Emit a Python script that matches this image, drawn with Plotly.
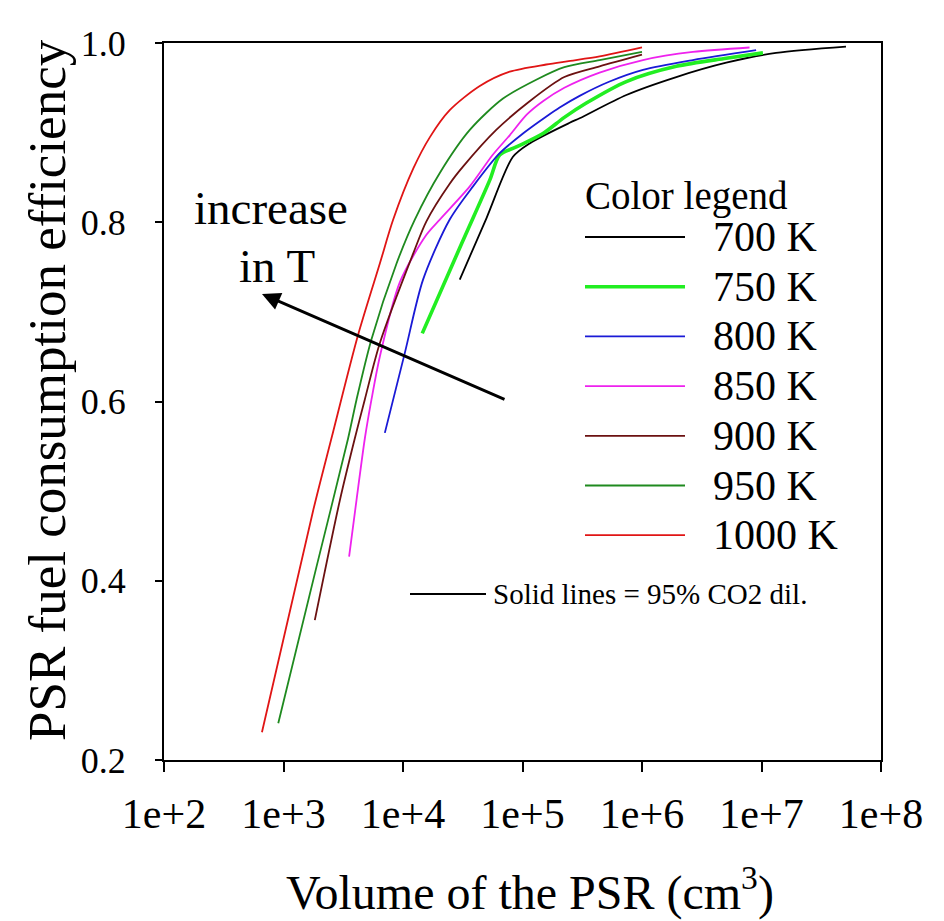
import plotly.graph_objects as go

# ---------------- data ----------------
temps = ["700 K", "750 K", "800 K", "850 K", "900 K", "950 K", "1000 K"]
colors = ["#000000", "#22ee22", "#1a1ad6", "#ee22ee", "#6b1111", "#1f8a1f", "#e01515"]
widths = [1.8, 3.6, 1.8, 1.8, 1.8, 1.8, 1.8]

vol_700 = [29850, 50100, 83200, 114800, 248300, 300600, 739600, 1936000, 5070000, 13240000, 50930000]
eff_700 = [0.736, 0.805, 0.873, 0.888, 0.911, 0.916, 0.942, 0.962, 0.978, 0.989, 0.996]

vol_750 = [14490, 30900, 53210, 64420, 88720, 148300, 223900, 342000, 739600, 1936000, 5070000, 10280000]
eff_750 = [0.676, 0.776, 0.847, 0.875, 0.884, 0.899, 0.917, 0.933, 0.957, 0.974, 0.983, 0.989]

vol_800 = [7047, 10350, 14720, 24600, 38550, 64420, 100900, 158500, 204600, 300600, 535800, 1018600, 2667000, 9016000]
eff_800 = [0.565, 0.654, 0.736, 0.803, 0.840, 0.877, 0.899, 0.918, 0.928, 0.941, 0.957, 0.970, 0.981, 0.992]

vol_850 = [3540, 4083, 4797, 5445, 6397, 9397, 15700, 20320, 36220, 56200, 78160, 108400, 148300, 223900, 441600, 1018600, 2667000, 7943000]
eff_850 = [0.427, 0.490, 0.559, 0.602, 0.650, 0.733, 0.786, 0.803, 0.840, 0.875, 0.897, 0.920, 0.935, 0.950, 0.967, 0.981, 0.990, 0.995]

vol_900 = [1828, 2965, 3954, 4786, 6397, 12160, 15700, 24600, 31770, 60260, 114800, 223900, 441600, 1000000]
eff_900 = [0.356, 0.490, 0.559, 0.602, 0.665, 0.765, 0.801, 0.843, 0.862, 0.903, 0.935, 0.962, 0.974, 0.987]

vol_950 = [904, 1892, 3475, 4083, 5433, 8830, 12560, 20320, 36220, 68710, 130300, 223900, 441600, 1000000]
eff_950 = [0.241, 0.416, 0.559, 0.602, 0.669, 0.754, 0.803, 0.855, 0.903, 0.938, 0.959, 0.973, 0.981, 0.990]

vol_1000 = [660, 1775, 2520, 4200, 6400, 8280, 12200, 16800, 24600, 43900, 78200, 158000, 251000, 442000, 1000000]
eff_1000 = [0.231, 0.479, 0.559, 0.674, 0.754, 0.803, 0.860, 0.895, 0.925, 0.952, 0.968, 0.976, 0.980, 0.985, 0.995]

volumes = [vol_700, vol_750, vol_800, vol_850, vol_900, vol_950, vol_1000]
effs = [eff_700, eff_750, eff_800, eff_850, eff_900, eff_950, eff_1000]

x_tickvals = [1e2, 1e3, 1e4, 1e5, 1e6, 1e7, 1e8]
x_ticktext = ["1e+2", "1e+3", "1e+4", "1e+5", "1e+6", "1e+7", "1e+8"]
y_tickvals = [0.2, 0.4, 0.6, 0.8, 1.0]

# ---------------- layout geometry ----------------
W, H = 944, 921
L, R, T, B = 164, 881, 43, 760   # plot-area pixel edges
PW, PH = R - L, B - T


def px_x(x):
    return (x - L) / PW


def px_y(y):
    return (B - y) / PH


SERIF = "Liberation Serif, Times New Roman, serif"

fig = go.Figure()
for name, v, e, c, w in zip(temps, volumes, effs, colors, widths):
    fig.add_trace(go.Scatter(
        x=v, y=e, mode="lines", name=name,
        line=dict(color=c, width=w, shape="spline", smoothing=0.8),
        showlegend=False,
    ))

fig.update_layout(
    width=W, height=H,
    margin=dict(l=L, r=W - R, t=T, b=H - B),
    paper_bgcolor="white", plot_bgcolor="white",
    font=dict(family=SERIF, color="black"),
)

fig.update_xaxes(
    type="log", range=[2, 8],
    tickvals=x_tickvals, ticktext=x_ticktext,
    ticks="outside", ticklen=10, tickwidth=2, tickcolor="black",
    showline=True, linewidth=2, linecolor="black", mirror=True,
    showgrid=False, zeroline=False,
    tickfont=dict(family=SERIF, size=42, color="black"),
    ticklabelstandoff=6,
)
fig.update_yaxes(
    range=[0.2, 1.0], tickvals=y_tickvals, tickformat=".1f",
    ticks="outside", ticklen=7, tickwidth=2, tickcolor="black",
    showline=True, linewidth=2, linecolor="black", mirror=True,
    showgrid=False, zeroline=False,
    tickfont=dict(family=SERIF, size=36, color="black"),
    ticklabelstandoff=22,
)

annotations = []
# axis titles
annotations.append(dict(
    text="Volume of the PSR (cm<sup>3</sup>)", xref="paper", yref="paper",
    x=px_x(530), y=px_y(890), xanchor="center", yanchor="middle",
    showarrow=False, font=dict(family=SERIF, size=48, color="black"),
))
annotations.append(dict(
    text="PSR fuel consumption efficiency", xref="paper", yref="paper",
    x=px_x(47), y=px_y(390), xanchor="center", yanchor="middle", textangle=-90,
    showarrow=False, font=dict(family=SERIF, size=53, color="black"),
))
# increase in T
annotations.append(dict(
    text="increase", xref="paper", yref="paper", x=px_x(271), y=px_y(208),
    xanchor="center", yanchor="middle", showarrow=False,
    font=dict(family=SERIF, size=47, color="black"),
))
annotations.append(dict(
    text="in T", xref="paper", yref="paper", x=px_x(277), y=px_y(266),
    xanchor="center", yanchor="middle", showarrow=False,
    font=dict(family=SERIF, size=47, color="black"),
))
# arrow
annotations.append(dict(
    text="", xref="paper", yref="paper", x=px_x(262), y=px_y(294),
    ax=506 - 262, ay=400 - 294, axref="pixel", ayref="pixel",
    showarrow=True, arrowhead=2, arrowsize=1.3, arrowwidth=2.8, arrowcolor="black",
    standoff=0,
))
# colour legend
annotations.append(dict(
    text="Color legend", xref="paper", yref="paper", x=px_x(583), y=px_y(196),
    xanchor="left", yanchor="middle", showarrow=False,
    font=dict(family=SERIF, size=39, color="black"),
))
shapes = []
for i, (name, c, w) in enumerate(zip(temps, colors, widths)):
    yy = 237 + i * 49.7
    shapes.append(dict(
        type="line", xref="paper", yref="paper",
        x0=px_x(585), x1=px_x(685), y0=px_y(yy), y1=px_y(yy),
        line=dict(color=c, width=w),
    ))
    annotations.append(dict(
        text=name, xref="paper", yref="paper", x=px_x(711), y=px_y(yy),
        xanchor="left", yanchor="middle", showarrow=False,
        font=dict(family=SERIF, size=42, color="black"),
    ))
# solid lines note
shapes.append(dict(
    type="line", xref="paper", yref="paper",
    x0=px_x(410), x1=px_x(486), y0=px_y(594), y1=px_y(594),
    line=dict(color="black", width=2),
))
annotations.append(dict(
    text="Solid lines = 95% CO2 dil.", xref="paper", yref="paper",
    x=px_x(491), y=px_y(594), xanchor="left", yanchor="middle", showarrow=False,
    font=dict(family=SERIF, size=29, color="black"),
))

fig.update_layout(annotations=annotations, shapes=shapes)
fig.write_html("out.html")
